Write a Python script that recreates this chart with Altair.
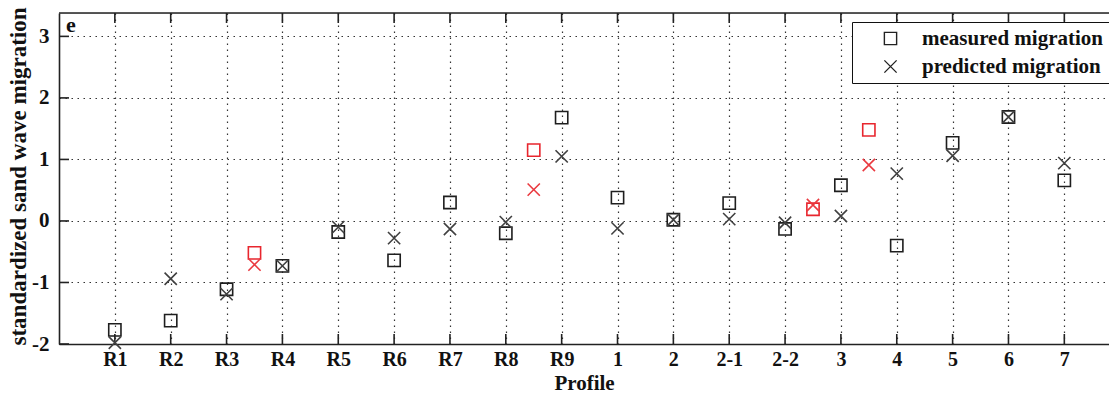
import altair as alt
import pandas as pd

profiles = ["R1", "R2", "R3", "R4", "R5", "R6", "R7", "R8", "R9",
            "1", "2", "2-1", "2-2", "3", "4", "5", "6", "7"]
positions = list(range(1, 19))
measured = [-1.77, -1.62, -1.11, -0.73, -0.18, -0.64, 0.30, -0.20, 1.68,
            0.38, 0.02, 0.29, -0.13, 0.58, -0.40, 1.27, 1.69, 0.66]
predicted = [-1.98, -0.94, -1.19, -0.73, -0.10, -0.28, -0.13, -0.02, 1.05,
             -0.12, 0.02, 0.03, -0.03, 0.08, 0.77, 1.06, 1.69, 0.94]
red_positions = [3.5, 8.5, 13.5, 14.5]
red_measured = [-0.52, 1.15, 0.19, 1.48]
red_predicted = [-0.71, 0.51, 0.26, 0.91]
y_ticks = [-2, -1, 0, 1, 2, 3]

W, H = 1050, 331
SERIF = "Liberation Serif"
CROSS = "M-1,-1L1,1M1,-1L-1,1"

rows = []
for p, m, q in zip(positions, measured, predicted):
    rows.append({"pos": p, "val": m, "series": "measured migration", "clr": "#1e1e1e"})
    rows.append({"pos": p, "val": q, "series": "predicted migration", "clr": "#404040"})
for p, m, q in zip(red_positions, red_measured, red_predicted):
    rows.append({"pos": p, "val": m, "series": "measured migration", "clr": "#e8262e"})
    rows.append({"pos": p, "val": q, "series": "predicted migration", "clr": "#ea3a40"})
df = pd.DataFrame(rows)

label_expr = "[" + ",".join("'" + s + "'" for s in profiles) + "][datum.value - 1]"

xscale = alt.Scale(domain=[0, 18.8], nice=False, zero=False)
yscale = alt.Scale(domain=[-2, 3.38], nice=False, zero=False)

x_axis = alt.Axis(values=positions, labelExpr=label_expr, title="Profile",
                  grid=True, gridDash=[1.5, 4.5], gridColor="#333", gridWidth=1.2,
                  ticks=False, domainColor="#222", domainWidth=1.6,
                  labelFont=SERIF, labelFontSize=20, labelFontWeight="bold",
                  labelColor="#111", labelPadding=5,
                  titleFont=SERIF, titleFontSize=21, titleFontWeight="bold",
                  titleColor="#111", titleBaseline="alphabetic", titleY=45)
y_axis = alt.Axis(values=y_ticks, labelExpr="'' + datum.value",
                  title="standardized sand wave migration",
                  grid=True, gridDash=[1.5, 4.5], gridColor="#333", gridWidth=1.2,
                  ticks=False, domainColor="#222", domainWidth=1.6,
                  labelFont=SERIF, labelFontSize=21, labelFontWeight="bold",
                  labelColor="#111", labelPadding=10,
                  titleFont=SERIF, titleFontSize=23, titleFontWeight="bold",
                  titleColor="#111", titleBaseline="alphabetic", titleX=-34, titleY=163)

points = alt.Chart(df).mark_point(filled=False, strokeWidth=1.6, opacity=1).encode(
    x=alt.X("pos:Q", scale=xscale, axis=x_axis),
    y=alt.Y("val:Q", scale=yscale, axis=y_axis),
    shape=alt.Shape("series:N",
                    scale=alt.Scale(domain=["measured migration", "predicted migration"],
                                    range=["square", CROSS]),
                    legend=alt.Legend(orient="none", legendX=793, legendY=9, title=None,
                                      strokeColor="#111", fillColor="white", padding=6,
                                      symbolOffset=22, labelOffset=21, labelLimit=500,
                                      labelFont=SERIF, labelFontSize=21,
                                      labelFontWeight="bold", labelColor="#111",
                                      symbolSize=150, symbolStrokeWidth=1.4,
                                      symbolStrokeColor="#222", symbolFillColor="transparent",
                                      rowPadding=6)),
    color=alt.Color("clr:N", scale=None),
    size=alt.value(150),
)

tick_df = pd.DataFrame({"pos": positions})
ytick_df = pd.DataFrame({"v": y_ticks})

bottom_ticks = alt.Chart(tick_df).mark_rule(color="#222", strokeWidth=1.6).encode(
    x=alt.X("pos:Q", scale=xscale), y=alt.value(H), y2=alt.value(H - 10))
top_ticks = alt.Chart(tick_df).mark_rule(color="#222", strokeWidth=1.6).encode(
    x=alt.X("pos:Q", scale=xscale), y=alt.value(0), y2=alt.value(10))
left_ticks = alt.Chart(ytick_df).mark_rule(color="#222", strokeWidth=1.6).encode(
    y=alt.Y("v:Q", scale=yscale), x=alt.value(0), x2=alt.value(10))
top_border = alt.Chart(pd.DataFrame({"a": [0]})).mark_rule(color="#222", strokeWidth=1.6).encode(
    x=alt.value(0), x2=alt.value(W), y=alt.value(0))
panel = alt.Chart(pd.DataFrame({"t": ["e"]})).mark_text(
    font=SERIF, fontSize=22, fontWeight="bold", color="#111", align="left", baseline="middle"
).encode(text="t:N", x=alt.value(7), y=alt.value(12))

chart = alt.layer(bottom_ticks, top_ticks, left_ticks, top_border, panel, points).properties(
    width=W, height=H,
    autosize=alt.AutoSizeParams(type="none"),
    padding={"left": 59, "top": 13, "right": 0, "bottom": 49},
).configure_view(stroke=None).configure(background="white")

chart.save("out.html", embed_options={"renderer": "svg", "actions": False})
